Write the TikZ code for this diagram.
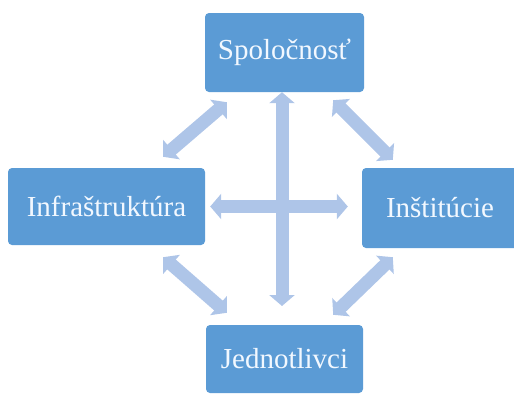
\documentclass[tikz,border=0pt]{standalone}
\usepackage{fontspec}
\setmainfont{Liberation Serif}
\usetikzlibrary{arrows.meta}
\definecolor{boxblue}{HTML}{5B9BD5}
\definecolor{linkblue}{HTML}{AEC5E8}
\definecolor{boxtext}{HTML}{F2F8FF}
\begin{document}
\begin{tikzpicture}[x=1pt,y=-1pt,
  box/.style={rectangle, rounded corners=4pt, fill=boxblue, text=boxtext, inner sep=0pt,
    font=\fontsize{29}{34}\selectfont},
  link/.style={linkblue, line width=13pt, {Triangle[width=25pt,length=11pt]}-{Triangle[width=25pt,length=11pt]}}]
\useasboundingbox (0,0) rectangle (514,400);
\node[box, minimum width=159pt, minimum height=79pt] (spol) at (284.5,52.5){Spoločnosť};
\node[box, minimum width=197pt, minimum height=77pt] (infra) at (106.5,206.5){Infraštruktúra};
\node[box, minimum width=156pt, minimum height=80pt] (inst) at (440,208){Inštitúcie};
\node[box, minimum width=157pt, minimum height=68pt] (jedn) at (284.5,359){Jednotlivci};
\draw[link]([xshift=-2.5pt]spol.south) -- ([xshift=-2.5pt]jedn.north |- 0,306);
\draw[link]([xshift=5pt]infra.east) -- ([xshift=-14pt]infra.east -| inst.west);
\draw[link]([xshift=22pt,yshift=-10pt]spol.south west) -- ([xshift=-42pt,yshift=11pt]infra.north east);
\draw[link]([xshift=-31pt,yshift=-8pt]spol.south east) -- ([xshift=31pt,yshift=8pt]inst.north west);
\draw[link]([xshift=-42pt,yshift=-12pt]infra.south east) -- ([xshift=21pt,yshift=12pt]jedn.north west);
\draw[link]([xshift=31pt,yshift=-9pt]inst.south west) -- ([xshift=-30pt,yshift=10pt]jedn.north east);
\end{tikzpicture}
\end{document}
